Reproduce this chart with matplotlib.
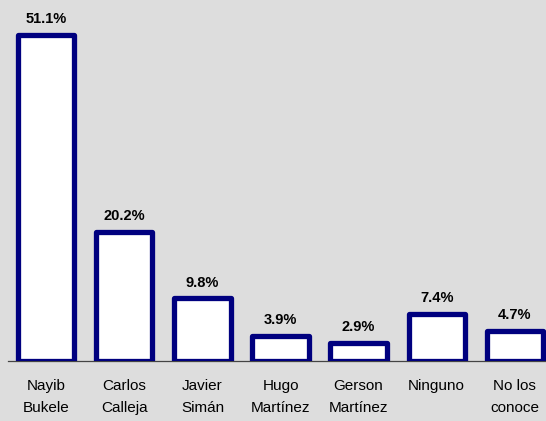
import matplotlib
matplotlib.use("Agg")
import matplotlib.pyplot as plt
from matplotlib import font_manager

categories = ["Nayib\nBukele", "Carlos\nCalleja", "Javier\nSimán", "Hugo\nMartínez",
              "Gerson\nMartínez", "Ninguno", "No los\nconoce"]
values = [51.1, 20.2, 9.8, 3.9, 2.9, 7.4, 4.7]
labels = ["51.1%", "20.2%", "9.8%", "3.9%", "2.9%", "7.4%", "4.7%"]

names = {f.name for f in font_manager.fontManager.ttflist}
fam = ["Liberation Sans Narrow", "Liberation Sans", "DejaVu Sans"]
fam = [f for f in fam if f in names] or ["DejaVu Sans"]
plt.rcParams['font.family'] = fam

bg = "#dddddd"
navy = "#00007f"
fig = plt.figure(figsize=(5.46, 4.21), dpi=100, facecolor=bg)
ax = fig.add_axes([8/546, 60/421, 1 - 8/546, 1 - 60/421], facecolor=bg)

x = list(range(len(values)))
ax.bar(x, values, width=0.72, color="white", edgecolor=navy, linewidth=3.8,
       joinstyle="round", zorder=3)
for xi, v, lab in zip(x, values, labels):
    ax.text(xi, v + 1.4, lab, ha="center", va="bottom", fontsize=10.5,
            fontweight="bold", color="black")

ax.set_xlim(-0.49, 6.4)
ax.set_ylim(0, 56.6)
ax.set_xticks(x)
ax.set_xticklabels(categories, fontsize=11, linespacing=1.7)
ax.tick_params(axis="x", length=0, pad=13)
ax.set_yticks([])
for s in ["top", "right", "left"]:
    ax.spines[s].set_visible(False)
ax.spines["bottom"].set_color("#444444")
ax.spines["bottom"].set_linewidth(0.9)
ax.spines["bottom"].set_zorder(2)

fig.savefig("out.png", dpi=100, facecolor=bg)
